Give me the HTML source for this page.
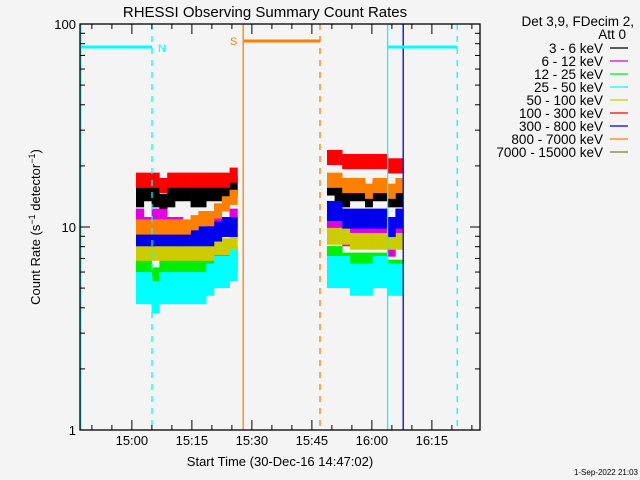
<!DOCTYPE html>
<html><head><meta charset="utf-8"><style>
body{margin:0;background:#f4f4f4;}
svg{display:block;font-family:"Liberation Sans",sans-serif;}
</style></head><body>
<svg id="chart" width="640" height="480" viewBox="0 0 640 480">
<rect width="640" height="480" fill="#f4f4f4"/>
<text x="265" y="17" font-size="15" text-anchor="middle">RHESSI Observing Summary Count Rates</text>
<g id="marks"></g>
<g id="axes"></g>
<text transform="translate(40,227) rotate(-90)" font-size="13" text-anchor="middle">Count Rate (s<tspan font-size="9" dy="-5">−1</tspan><tspan dy="5"> detector</tspan><tspan font-size="9" dy="-5">−1</tspan><tspan dy="5">)</tspan></text>
<text x="280" y="466" font-size="13" text-anchor="middle">Start Time (30-Dec-16 14:47:02)</text>
<text x="638" y="475" font-size="8" text-anchor="end">1-Sep-2022 21:03</text>
<g id="legend" font-size="13.5">
<text x="634" y="26" text-anchor="end">Det 3,9, FDecim 2,</text>
<text x="626" y="39" text-anchor="end">Att 0</text>
</g>
</svg>
<script>
const categories=['3 - 6 keV','6 - 12 keV','12 - 25 keV','25 - 50 keV','50 - 100 keV','100 - 300 keV','300 - 800 keV','800 - 7000 keV','7000 - 15000 keV'];
const colors=['#000000','#e000e0','#00ee00','#00ffff','#cccc00','#ff0000','#0000ee','#ff8000','#808020'];
const seg1Start=14, seg2Start=61.75, bin1=1.95, bin2=1.9;
const black1=[14,15,14,13,14,15,15,14,14,15,15,15,16];
const black2=[16,15,14,15,15,14,15,15,14,14];
const magenta1=[11,10,11,11,10,10,9,9,9,10,10,10,11];
const magenta2=[10,10,9,9,9,9,9,9,8,9];
const green1=[6,6,5.5,6,6,6,6,6,6,6.5,6.5,7,7];
const green2=[7,7,6.5,6.5,6.5,6.5,6.5,6.5,6,6];
const cyan1=[5,5,4.5,5,5,5,5,5,5,5.5,6,6,6.5];
const cyan2=[6,6,6,5.5,5.5,5.5,6,6,5.5,5.5];
const yellow1=[7.5,7.5,7.5,7.5,7.5,7.5,7.5,7.5,7.5,7.5,8,8,8.5];
const yellow2=[9,9,9,8.5,8.5,8.5,8.5,8.5,8.5,8.5];
const red1=[17,17,17,16,17,17,17,17,17,17,17,17,18];
const red2=[22,22,21,21,21,21,21,21,20,20];
const blue1=[9,9,9,9,9,9,9,9,9,9,9.5,10,10];
const blue2=[12,12,11,11,11,11,11,11,10,11];
const orange1=[10,10,10,10,10,10,10,10.5,11,11,12,13,14];
const orange2=[17,17,16,16,16,15,16,16,15,16];
const xTickLabels=['15:00','15:15','15:30','15:45','16:00','16:15'];
const yTickLabels=['1','10','100'];
const NS='http://www.w3.org/2000/svg';
const X0=80,X1=480,Y100=24,Y1=430,TMAX=100;
function xs(m){return X0+(m/TMAX)*(X1-X0);}
function ys(v){return Y1-(Math.log10(v)/2)*(Y1-Y100);}
function mk(tag,attrs,parent){const e=document.createElementNS(NS,tag);for(const k in attrs)e.setAttribute(k,attrs[k]);parent.appendChild(e);return e;}
const marks=document.getElementById('marks'),axes=document.getElementById('axes'),legend=document.getElementById('legend');
const series=[[black1,black2,0,1.12],[magenta1,magenta2,1,1.12],[green1,green2,2,1.15],[cyan1,cyan2,3,1.2],[yellow1,yellow2,4,1.1],[red1,red2,5,1.09],[blue1,blue2,6,1.12],[orange1,orange2,7,1.09]];
series.forEach(s=>{
  [[s[0],seg1Start,bin1],[s[1],seg2Start,bin2]].forEach(([arr,st,bw])=>{
    arr.forEach((v,i)=>{
      const r=mk('rect',{x:xs(st+i*bw),width:xs(bw)-X0+0.3,y:ys(v*s[3]),height:ys(v/s[3])-ys(v*s[3]),fill:colors[s[2]]},marks);
      
      
    });
  });
});
const vlines=[[0.2,'#00ffff',''],[18,'#00ffff','6,6'],[40.8,'#ff8000',''],[60,'#ff8000','6,6'],[76.9,'#00ffff',''],[80.8,'#0000ee',''],[94.3,'#00ffff','6,6']];
vlines.forEach((l,i)=>{const e=mk('line',{x1:xs(l[0]),x2:xs(l[0]),y1:Y100,y2:Y1,stroke:l[1],'stroke-width':1.3,'stroke-dasharray':l[2]},marks);

});
const bars=[[0.2,18,47,'#00ffff'],[41,60,41,'#ff8000'],[77,94.3,47,'#00ffff']];
bars.forEach(b=>{const e=mk('line',{x1:xs(b[0]),x2:xs(b[1]),y1:b[2],y2:b[2],stroke:b[3],'stroke-width':3},marks);

});
let t=mk('text',{x:158,y:52,fill:'#00ffff','font-size':11},marks);t.textContent='N';


t=mk('text',{x:230,y:45,fill:'#ff8000','font-size':11},marks);t.textContent='S';


const f=mk('rect',{x:X0,y:Y100,width:X1-X0,height:Y1-Y100,fill:'none',stroke:'#000','stroke-width':1.3},axes);


for(let k=-2;k<18;k++){const m=12.97+5*k;if(m<0||m>TMAX)continue;const major=k%3===0;const L=major?10:5;
  mk('line',{x1:xs(m),x2:xs(m),y1:Y1,y2:Y1-L,stroke:'#000'},axes);
  mk('line',{x1:xs(m),x2:xs(m),y1:Y100,y2:Y100+L,stroke:'#000'},axes);
  if(major&&k/3<xTickLabels.length){const tx=mk('text',{x:xs(m),y:Y1+15,'font-size':13,'text-anchor':'middle'},axes);tx.textContent=xTickLabels[k/3];
  
  }
}
for(let d=0;d<=2;d++){for(let j=1;j<=9;j++){const v=Math.pow(10,d)*j;if(v>100)break;const L=j===1?10:5;
  mk('line',{x1:X0,x2:X0+L,y1:ys(v),y2:ys(v),stroke:'#000'},axes);
  mk('line',{x1:X1,x2:X1-L,y1:ys(v),y2:ys(v),stroke:'#000'},axes);
  if(j===1){const tx=mk('text',{x:X0-4,y:ys(v)+5,'font-size':13,'text-anchor':'end'},axes);tx.textContent=yTickLabels[d];
  
  }}}
categories.forEach((c,i)=>{const y=48+i*13;
  const tx=mk('text',{x:603,y:y+5,'text-anchor':'end'},legend);tx.textContent=c;
  
  
  const ln=mk('line',{x1:610,x2:628,y1:y,y2:y,stroke:colors[i],'stroke-width':1.3},legend);
  
  });
</script>
</body></html>
